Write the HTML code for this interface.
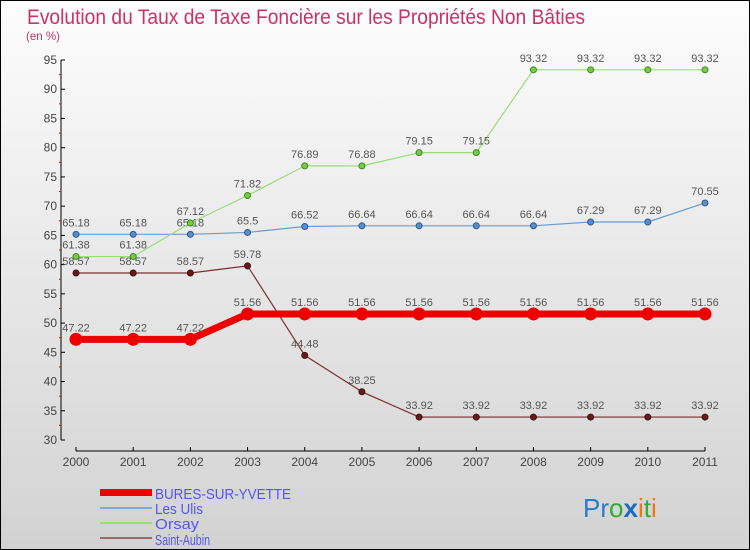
<!DOCTYPE html>
<html><head><meta charset="utf-8"><style>
body{margin:0;}
#c{width:750px;height:550px;position:relative;overflow:hidden;}
svg text{font-family:"Liberation Sans","DejaVu Sans",sans-serif;}
</style></head><body>
<div id="c">
<svg id="s" width="750" height="550" xmlns="http://www.w3.org/2000/svg">
<defs><linearGradient id="bg" x1="0" y1="0" x2="0" y2="1"><stop offset="0" stop-color="#fdfdfd"/><stop offset="1" stop-color="#d2d2d2"/></linearGradient></defs>
<rect x="0.5" y="0.5" width="749" height="549" fill="url(#bg)" stroke="#000"/>
<text x="27" y="24" font-size="21" fill="#c8336a" textLength="558" lengthAdjust="spacingAndGlyphs">Evolution du Taux de Taxe Foncière sur les Propriétés Non Bâties</text>
<text x="26" y="40" font-size="12" fill="#c8336a" textLength="34" lengthAdjust="spacingAndGlyphs">(en %)</text>
<g id="axes"></g>
<g id="series"></g>
<g id="legend">
<rect x="100" y="489" width="52" height="7" fill="#ee0000"/>
<text x="155" y="499" font-size="15" fill="#5555ee" textLength="136" lengthAdjust="spacingAndGlyphs">BURES-SUR-YVETTE</text>
<rect x="100" y="507" width="52" height="2" fill="#80aad0"/>
<text x="155" y="514" font-size="15" fill="#5555ee" textLength="48" lengthAdjust="spacingAndGlyphs">Les Ulis</text>
<rect x="100" y="522" width="52" height="2" fill="#99dd77"/>
<text x="155" y="529" font-size="15" fill="#5555ee" textLength="44" lengthAdjust="spacingAndGlyphs">Orsay</text>
<rect x="100" y="537" width="52" height="2" fill="#9a6a6a"/>
<text x="155" y="545" font-size="15" fill="#5555ee" textLength="55" lengthAdjust="spacingAndGlyphs">Saint-Aubin</text>
</g>
<text x="583" y="517" font-size="26"><tspan fill="#2a7ad0">Pr</tspan><tspan fill="#33aa33">o</tspan><tspan fill="#1a6ac0" font-weight="bold">x</tspan><tspan fill="#ee7711">i</tspan><tspan fill="#33aa33">t</tspan><tspan fill="#ee7711">i</tspan></text>
</svg>
</div>
<script>
const years=[2000,2001,2002,2003,2004,2005,2006,2007,2008,2009,2010,2011];
const yTicks=[30,35,40,45,50,55,60,65,70,75,80,85,90,95];
const bures=[47.22,47.22,47.22,51.56,51.56,51.56,51.56,51.56,51.56,51.56,51.56,51.56];
const lesUlis=[65.18,65.18,65.18,65.5,66.52,66.64,66.64,66.64,66.64,67.29,67.29,70.55];
const orsay=[61.38,61.38,67.12,71.82,76.89,76.88,79.15,79.15,93.32,93.32,93.32,93.32];
const saintAubin=[58.57,58.57,58.57,59.78,44.48,38.25,33.92,33.92,33.92,33.92,33.92,33.92];
const NS="http://www.w3.org/2000/svg";
function xs(i){return 76+i*(705-76)/(years.length-1);}
function ys(v){return 440-(v-30)*(380/65);}
function mk(tag,attrs,parent){const e=document.createElementNS(NS,tag);for(const k in attrs)e.setAttribute(k,attrs[k]);parent.appendChild(e);return e;}
const ax=document.getElementById('axes');
let yl=mk('line',{x1:61,y1:ys(95),x2:61,y2:ys(30),stroke:'#000'},ax);


yTicks.forEach(v=>{
  const t=mk('line',{x1:61,y1:ys(v),x2:65,y2:ys(v),stroke:'#000'},ax);
  
  
  const l=mk('text',{x:57,y:ys(v)+4,'font-size':12,'text-anchor':'end',fill:'#444'},ax);
  l.textContent=v;
  
  
  if(v<95){const m=mk('line',{x1:59,y1:ys(v+2.5),x2:61,y2:ys(v+2.5),stroke:'#e00'},ax);
  
  }
});
let xl=mk('line',{x1:xs(0),y1:451,x2:xs(11),y2:451,stroke:'#000'},ax);


years.forEach((y,i)=>{
  const t=mk('line',{x1:xs(i),y1:447,x2:xs(i),y2:451,stroke:'#000'},ax);
  
  
  const l=mk('text',{x:xs(i),y:466,'font-size':12,'text-anchor':'middle',fill:'#444'},ax);
  l.textContent=y;
  
  
});
const sg=document.getElementById('series');
function series(data,name,color,w,r,dot,dotStroke){
  const g=mk('g',{},sg);
  
  
  const p=mk('polyline',{points:data.map((v,i)=>xs(i)+','+ys(v)).join(' '),fill:'none',stroke:color,'stroke-width':w,'stroke-linejoin':'round'},g);
  
  
  data.forEach((v,i)=>{
    const c=mk('circle',{cx:xs(i),cy:ys(v),r:r,fill:dot,stroke:dotStroke,'stroke-width':1},g);
    
    
    const t=mk('text',{x:xs(i),y:ys(v)-8,'font-size':11,'text-anchor':'middle',fill:'#555'},g);
    t.textContent=v;
    
    
  });
}
series(saintAubin,'saint-aubin','#7a3030',1.2,3,'#6a1818','#401010');
series(lesUlis,'les-ulis','#6a9ccc',1.2,3,'#5a8ec8','#2a5a90');
series(orsay,'orsay','#99dd77',1.2,3,'#77cc44','#3a8a20');
series(bures,'bures-sur-yvette','#ee0000',7,6,'#ee0000','#ee0000');
</script>
</body></html>
